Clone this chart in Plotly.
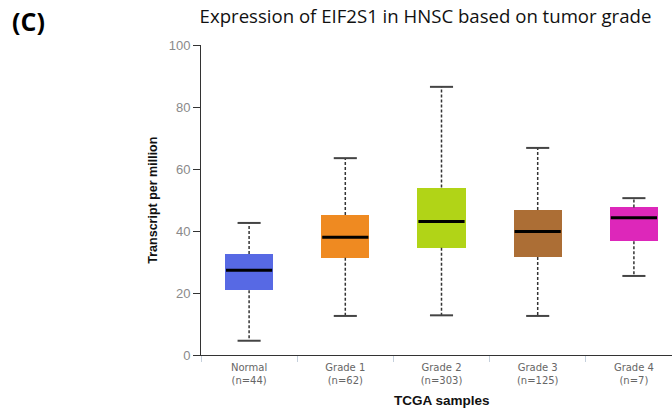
import plotly.graph_objects as go

# Tumour-grade groups and their five-number summaries (TPM)
groups = ["Normal", "Grade 1", "Grade 2", "Grade 3", "Grade 4"]
counts = [44, 62, 303, 125, 7]
lower = [4.6, 12.6, 12.8, 12.6, 25.5]
q1 = [20.9, 31.4, 34.6, 31.6, 36.7]
median = [27.3, 38.0, 43.1, 39.8, 44.3]
q3 = [32.6, 45.2, 54.0, 46.8, 47.6]
upper = [42.6, 63.5, 86.5, 66.8, 50.6]
colors = ["#5769E4", "#EF8A21", "#B1D417", "#AC6E35", "#DD27BA"]
y_ticks = [0, 20, 40, 60, 80, 100]

box_w = 0.5
cap_w = 0.24

fig = go.Figure()

for i, g in enumerate(groups):
    # dashed whiskers from the box edges to the fences
    fig.add_trace(go.Scatter(
        x=[i, i, None, i, i],
        y=[q3[i], upper[i], None, q1[i], lower[i]],
        mode="lines", line=dict(color="#333333", width=1.5, dash="3px,2px"),
        showlegend=False, hoverinfo="skip"))
    # whisker caps
    fig.add_trace(go.Scatter(
        x=[i - cap_w / 2, i + cap_w / 2, None, i - cap_w / 2, i + cap_w / 2],
        y=[upper[i], upper[i], None, lower[i], lower[i]],
        mode="lines", line=dict(color="#444444", width=2),
        showlegend=False, hoverinfo="skip"))

# interquartile boxes
fig.add_trace(go.Bar(
    x=list(range(len(groups))),
    y=[b - a for a, b in zip(q1, q3)],
    base=q1, width=box_w,
    marker=dict(color=colors, line=dict(width=0)),
    showlegend=False, hoverinfo="skip"))

# medians
for i in range(len(groups)):
    fig.add_trace(go.Scatter(
        x=[i - box_w / 2 + 0.01, i + box_w / 2 - 0.01],
        y=[median[i], median[i]],
        mode="lines", line=dict(color="black", width=3),
        showlegend=False, hoverinfo="skip"))

tick_text = [f"{g}<br>(n={n})" for g, n in zip(groups, counts)]

fig.update_layout(
    width=672, height=409,
    margin=dict(l=201, r=0, t=45, b=54),
    plot_bgcolor="white", paper_bgcolor="white",
    title=dict(text="Expression of EIF2S1 in HNSC based on tumor grade",
               x=0.4766, xref="paper", xanchor="center", y=0.96, yanchor="middle",
               font=dict(family="Open Sans", size=18.6, color="#111111")),
    xaxis=dict(
        range=[-0.5, 4.396],
        tickmode="array", tickvals=list(range(len(groups))), ticktext=tick_text,
        ticks="", showgrid=False, zeroline=False,
        showline=True, linecolor="#333333", linewidth=1,
        ticklabelstandoff=3,
        tickfont=dict(family="DejaVu Sans", size=10, color="#666666"),
        minor=dict(tickmode="array", tickvals=[k - 0.5 for k in range(len(groups))],
                   ticks="outside", ticklen=6, tickcolor="#c5d0dc", tickwidth=1),
    ),
    yaxis=dict(
        range=[0, 100], tickvals=y_ticks,
        ticks="outside", ticklen=7, tickcolor="#333333",
        showgrid=False, zeroline=False,
        showline=True, linecolor="#333333", linewidth=1,
        tickfont=dict(family="Liberation Sans", size=13, color="#8a8a8a"),
    ),
    bargap=0,
)

fig.add_annotation(
    text="<b>Transcript per million</b>", textangle=-90,
    x=-0.1025, xref="paper", xanchor="center",
    y=0.5, yref="paper", yanchor="middle", showarrow=False,
    font=dict(family="Liberation Sans", size=12.5, color="#111111"))

fig.add_annotation(
    text="<b>TCGA samples</b>", x=2, xref="x", y=-0.148, yref="paper",
    yanchor="middle", showarrow=False,
    font=dict(family="Liberation Sans", size=13.5, color="#111111"))

fig.add_annotation(
    text="<b>(C)</b>", x=-0.4055, xref="paper", xanchor="left",
    y=1.078, yref="paper", yanchor="middle", showarrow=False,
    font=dict(family="Open Sans", size=25, color="#000000"))

fig.write_html("out.html")
